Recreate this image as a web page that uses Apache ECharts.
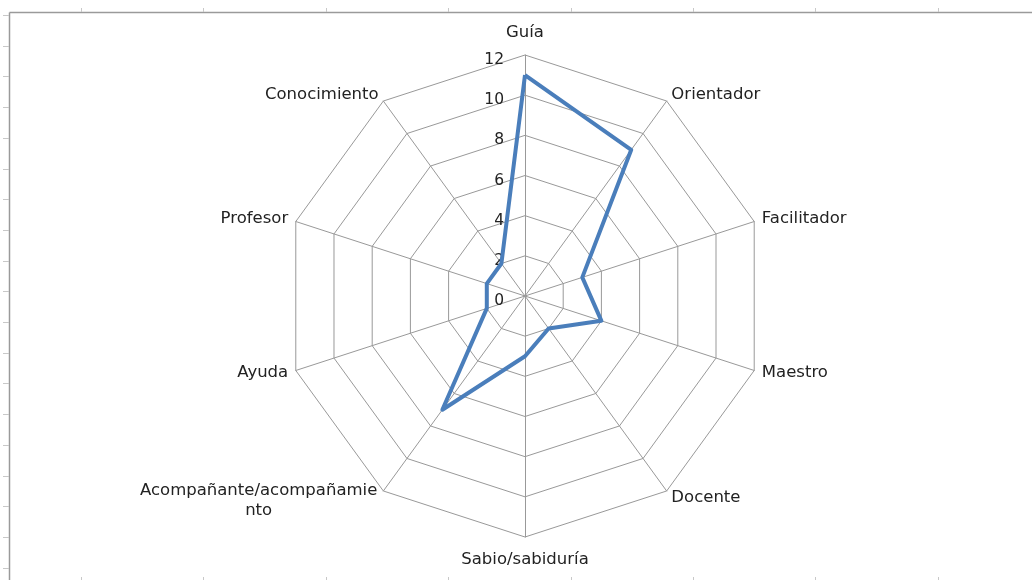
<!DOCTYPE html>
<html>
<head>
<meta charset="utf-8">
<script src="https://cdn.jsdelivr.net/npm/echarts@6/dist/echarts.min.js"></script>
<style>
  html, body { margin: 0; padding: 0; background: #fff; }
  #chart { width: 1032px; height: 580px; }
</style>
</head>
<body>
<div id="chart"></div>
<script>
// Data (reference order, clockwise from top)
const categories = ['Guía', 'Orientador', 'Facilitador', 'Maestro', 'Docente', 'Sabio/sabiduría', 'Acompañante/acompañamiento', 'Ayuda', 'Profesor', 'Conocimiento'];
const values = [11, 9, 3, 4, 2, 3, 7, 2, 2, 2];
const axisMax = 12;
const axisTicks = ['0', '2', '4', '6', '8', '10', '12'];

// ECharts radar runs counter-clockwise: keep first, reverse the rest
const order = [0].concat(categories.map((_, i) => i).slice(1).reverse());
const indicatorNames = order.map(i => categories[i]);
const indicatorValues = order.map(i => values[i]);

const FONT = 'DejaVu Sans';
const FS = 16.5;
const TEXT = '#222';
const GRID = '#999999';

const indicator = indicatorNames.map((n, k) => {
  const o = { name: n, max: axisMax, min: 0 };
  if (k === 0) {
    o.axisLabel = {
      show: true, color: TEXT, fontFamily: FONT, fontSize: 15.5, margin: 21,
      formatter: v => '{t|' + (axisTicks[Math.round(v / 2)] ?? String(v)) + '}',
      rich: { t: { color: TEXT, fontFamily: FONT, fontSize: 15.5, padding: [10, 0, 0, 0] } }
    };
  }
  return o;
});

// decorative frame (spreadsheet edge)
const graphics = [];
graphics.push({ type: 'line', shape: { x1: 9.5, y1: 12.5, x2: 1032, y2: 12.5 }, style: { stroke: '#9a9a9a', lineWidth: 1.5 }, silent: true });
graphics.push({ type: 'line', shape: { x1: 9.5, y1: 12.5, x2: 9.5, y2: 580 }, style: { stroke: '#9a9a9a', lineWidth: 1.5 }, silent: true });
for (let k = 0; k < 8; k++) {
  const x = Math.round(81 + k * 122.4) + 0.5;
  graphics.push({ type: 'line', shape: { x1: x, y1: 8, x2: x, y2: 12 }, style: { stroke: '#c8c8c8', lineWidth: 1 }, silent: true });
  graphics.push({ type: 'line', shape: { x1: x, y1: 577, x2: x, y2: 580 }, style: { stroke: '#c8c8c8', lineWidth: 1 }, silent: true });
}
for (let k = 0; k < 19; k++) {
  const y = Math.round(15 + k * 30.7) + 0.5;
  graphics.push({ type: 'line', shape: { x1: 3, y1: y, x2: 9, y2: y }, style: { stroke: '#c8c8c8', lineWidth: 1 }, silent: true });
}

const chart = echarts.init(document.getElementById('chart'), null, { renderer: 'canvas' });
chart.setOption({
  backgroundColor: '#ffffff',
  animation: false,
  graphic: graphics,
  radar: {
    center: [525, 296],
    radius: 241,
    startAngle: 90,
    splitNumber: 6,
    shape: 'polygon',
    nameGap: 8,
    indicator: indicator,
    axisName: {
      color: TEXT,
      fontFamily: FONT,
      fontSize: FS,
      formatter: function (name) {
        if (name === 'Guía' || name === 'Sabio/sabiduría') return '{v|' + name + '}';
        if (name === 'Acompañante/acompañamiento') return '{w1|Acompañante/acompañamie}\n{w|nto}';
        return name;
      },
      rich: {
        v: { color: TEXT, fontFamily: FONT, fontSize: FS, lineHeight: 29 },
        w1: { color: TEXT, fontFamily: FONT, fontSize: FS, lineHeight: 22, width: 240, align: 'center', padding: [8, 0, 0, 0] },
        w: { color: TEXT, fontFamily: FONT, fontSize: FS, lineHeight: 22, width: 240, align: 'center', padding: [4, 0, 0, 0] }
      }
    },
    axisLine: { show: true, lineStyle: { color: GRID, width: 1 } },
    axisTick: { show: false },
    axisLabel: { show: false },
    splitLine: { show: true, lineStyle: { color: GRID, width: 1 } },
    splitArea: { show: false }
  },
  series: [{
    type: 'radar',
    symbol: 'none',
    lineStyle: { color: '#4a7ebb', width: 4 },
    itemStyle: { color: '#4a7ebb' },
    data: [{ value: indicatorValues, name: 'Serie' }]
  }]
});
</script>
</body>
</html>
